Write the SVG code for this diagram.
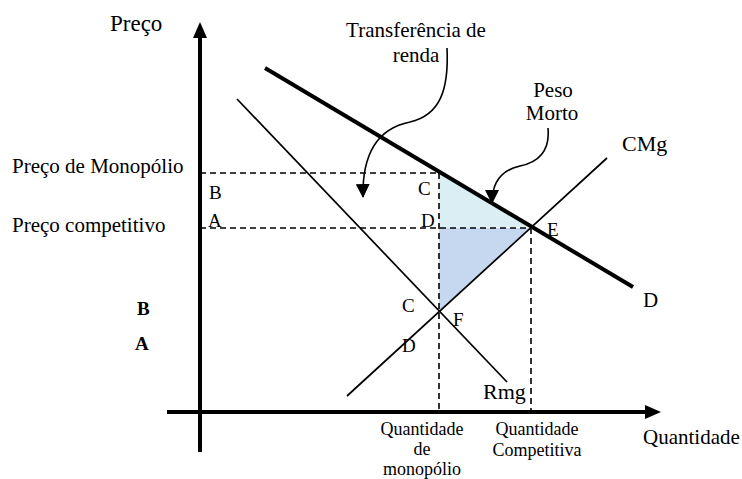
<svg xmlns="http://www.w3.org/2000/svg" width="742" height="479" viewBox="0 0 742 479">
<style>
text{font-family:"Liberation Serif","Times New Roman",serif;fill:#000}
.lg{font-size:21px}
.sm{font-size:19px}
.q{font-size:18px;text-anchor:middle}
.mid{text-anchor:middle}
.dash{stroke:#000;stroke-width:1.6;stroke-dasharray:6 4;fill:none}
.thin{stroke:#000;stroke-width:1.7;fill:none}
.curve{stroke:#000;stroke-width:1.6;fill:none}
</style>
<defs>
<marker id="ah" viewBox="0 0 14 14" refX="13" refY="7" markerWidth="14" markerHeight="14" markerUnits="userSpaceOnUse" orient="auto">
<path d="M0,0 L14,7 L0,14 Z" fill="#000"/>
</marker>
</defs>
<rect width="742" height="479" fill="#fff"/>
<g id="areas">
<polygon points="439,172 531,227 439,228" fill="#DBEEF3"/>
<polygon points="439,228 531,228 439,311" fill="#C6D8F0"/>
</g>
<g id="connectors">
<line class="dash" x1="200" y1="173" x2="439" y2="173"/>
<line class="dash" x1="200" y1="228" x2="531" y2="228"/>
<line class="dash" x1="439" y1="173" x2="439" y2="410"/>
<line class="dash" x1="531" y1="228" x2="531" y2="410"/>
<line x1="265" y1="68" x2="633" y2="287" stroke="#000" stroke-width="4"/>
<line class="thin" x1="237" y1="99" x2="507" y2="382"/>
<line class="thin" x1="347" y1="396" x2="607" y2="158"/>
<line x1="200" y1="452" x2="200" y2="34" stroke="#000" stroke-width="4"/>
<polygon points="200,22 207,38 193,38" fill="#000"/>
<line x1="167" y1="412" x2="648" y2="412" stroke="#000" stroke-width="4"/>
<polygon points="661,412 645,405 645,419" fill="#000"/>
<path class="curve" d="M447,48 C449,90 440,115 410,122 C380,128 362,150 363,197" marker-end="url(#ah)"/>
<path class="curve" d="M548,128 C550,150 540,162 520,166 C502,170 492,182 492,203" marker-end="url(#ah)"/>
</g>
<g id="labels">
<text x="110" y="31" font-size="23">Preço</text>
<text class="lg" x="12" y="173">Preço de Monopólio</text>
<text class="lg" x="12" y="232">Preço competitivo</text>
<text class="sm" x="209" y="199">B</text>
<text class="sm" x="208" y="227">A</text>
<text class="sm" x="137" y="315" font-weight="bold">B</text>
<text class="sm" x="135" y="350" font-weight="bold">A</text>
<text class="sm" x="418" y="195">C</text>
<text class="sm" x="421" y="227">D</text>
<text class="sm" x="547" y="236">E</text>
<text class="sm" x="402" y="312">C</text>
<text class="sm" x="453" y="326">F</text>
<text class="sm" x="402" y="352">D</text>
<text x="622" y="151" font-size="22">CMg</text>
<text class="lg" x="643" y="307">D</text>
<text x="483" y="399" font-size="22">Rmg</text>
<text class="lg" x="643" y="444">Quantidade</text>
<text class="q" x="422" y="435">Quantidade</text>
<text class="q" x="422" y="455">de</text>
<text class="q" x="422" y="475">monopólio</text>
<text class="q" x="537" y="435">Quantidade</text>
<text class="q" x="537" y="456">Competitiva</text>
<text class="lg mid" x="416" y="37">Transferência de</text>
<text class="lg mid" x="416" y="62">renda</text>
<text class="lg mid" x="553" y="97">Peso</text>
<text class="lg mid" x="552" y="120">Morto</text>
</g>
</svg>
